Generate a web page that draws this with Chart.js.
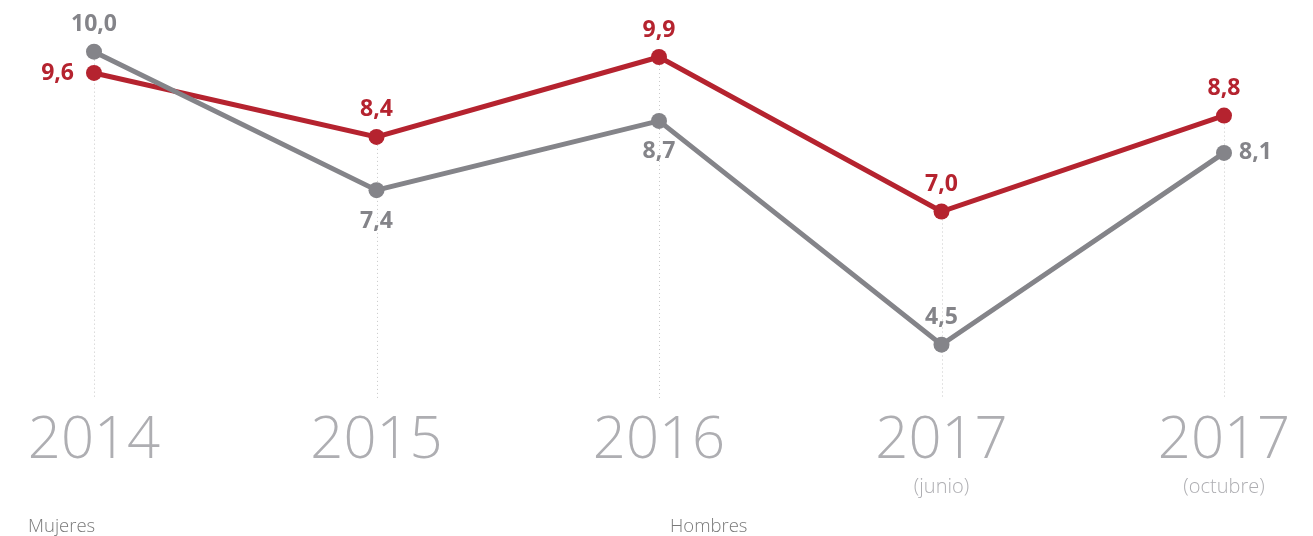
<!DOCTYPE html>
<html>
<head>
<meta charset="utf-8">
<script src="https://cdn.jsdelivr.net/npm/chart.js@4.4.1/dist/chart.umd.min.js"></script>
<style>
  html, body { margin: 0; padding: 0; background: #fff; }
  #wrap { width: 1313px; height: 536px; }
</style>
</head>
<body>
<div id="wrap"><canvas id="grafico"></canvas></div>
<script>
// Datos
const anios = ['2014', '2015', '2016', '2017', '2017'];
const subEtiquetas = ['', '', '', '(junio)', '(octubre)'];
const mujeres = [10.0, 7.4, 8.7, 4.5, 8.1];
const hombres = [9.6, 8.4, 9.9, 7.0, 8.8];
// posición de la etiqueta de cada punto
const posMujeres = ['top', 'bottom', 'bottom', 'top', 'right'];
const posHombres = ['left', 'top', 'top', 'top', 'top'];

const GRIS = '#848489';
const ROJO = '#b5232f';
const GRIS_CLARO = '#aeaeb2';

function formato(v) {
    return v.toFixed(1).replace('.', ',');
}

// Líneas punteadas desde el punto más alto hasta la base
const guias = {
    id: 'guias',
    beforeDatasetsDraw(chart) {
        const ctx = chart.ctx;
        const x = chart.scales.x, y = chart.scales.y;
        ctx.save();
        ctx.strokeStyle = '#c8c8c8';
        ctx.lineWidth = 1;
        ctx.setLineDash([1, 3]);
        anios.forEach((a, i) => {
            const maxV = Math.max(mujeres[i], hombres[i]);
            const px = Math.round(x.getPixelForValue(i)) + 0.5;
            ctx.beginPath();
            ctx.moveTo(px, y.getPixelForValue(maxV));
            ctx.lineTo(px, chart.chartArea.bottom);
            ctx.stroke();
        });
        ctx.restore();
    }
};

// Etiquetas de valores, subetiquetas y leyenda
const textos = {
    id: 'textos',
    afterDatasetsDraw(chart) {
        const ctx = chart.ctx;
        ctx.save();
        ctx.font = '700 23px "Open Sans", sans-serif';
        chart.data.datasets.forEach((ds, d) => {
            const meta = chart.getDatasetMeta(d);
            ctx.fillStyle = ds.borderColor;
            meta.data.forEach((pt, i) => {
                const pos = ds.posiciones[i];
                let tx = pt.x, ty = pt.y;
                ctx.textAlign = 'center';
                ctx.textBaseline = 'middle';
                if (pos === 'top') ty -= 27;
                else if (pos === 'bottom') ty += 31;
                else if (pos === 'left') { tx -= 20; ctx.textAlign = 'right'; }
                else if (pos === 'right') { tx += 15; ctx.textAlign = 'left'; }
                ctx.fillText(formato(ds.data[i]), tx, ty);
            });
        });
        // subetiquetas del eje x
        const x = chart.scales.x;
        ctx.fillStyle = GRIS_CLARO;
        ctx.font = '300 20px "Open Sans", sans-serif';
        ctx.textAlign = 'center';
        ctx.textBaseline = 'middle';
        subEtiquetas.forEach((s, i) => {
            if (s) ctx.fillText(s, x.getPixelForValue(i), 487);
        });
        // leyenda (solo texto)
        ctx.fillStyle = '#7a7a7a';
        ctx.font = '300 18.5px "Open Sans", sans-serif';
        ctx.textAlign = 'left';
        ctx.fillText(chart.data.datasets[0].label, 28, 527);
        ctx.fillText(chart.data.datasets[1].label, 670, 527);
        ctx.restore();
    }
};

const ctx = document.getElementById('grafico').getContext('2d');
const chart = new Chart(ctx, {
    type: 'line',
    data: {
        labels: anios,
        datasets: [
            {
                label: 'Mujeres', data: mujeres, posiciones: posMujeres,
                borderColor: GRIS, backgroundColor: GRIS,
                borderWidth: 5, pointRadius: 8, pointBorderWidth: 0, tension: 0
            },
            {
                label: 'Hombres', data: hombres, posiciones: posHombres,
                borderColor: ROJO, backgroundColor: ROJO,
                borderWidth: 5, pointRadius: 8, pointBorderWidth: 0, tension: 0
            }
        ]
    },
    options: {
        responsive: true,
        maintainAspectRatio: false,
        animation: false,
        layout: { padding: { left: 94, right: 89, top: 25, bottom: 0 } },
        plugins: { legend: { display: false }, tooltip: { enabled: false } },
        scales: {
            x: {
                offset: false,
                grid: { display: false, drawTicks: false },
                border: { display: false },
                ticks: {
                    color: GRIS_CLARO,
                    font: { family: '"Open Sans", sans-serif', size: 58, weight: '300' },
                    padding: 9,
                    maxRotation: 0,
                    autoSkip: false
                },
                afterFit(scale) { scale.height = 138; }
            },
            y: { display: false, min: 3.5, max: 10.5 }
        }
    },
    plugins: [guias, textos]
});
</script>
</body>
</html>
